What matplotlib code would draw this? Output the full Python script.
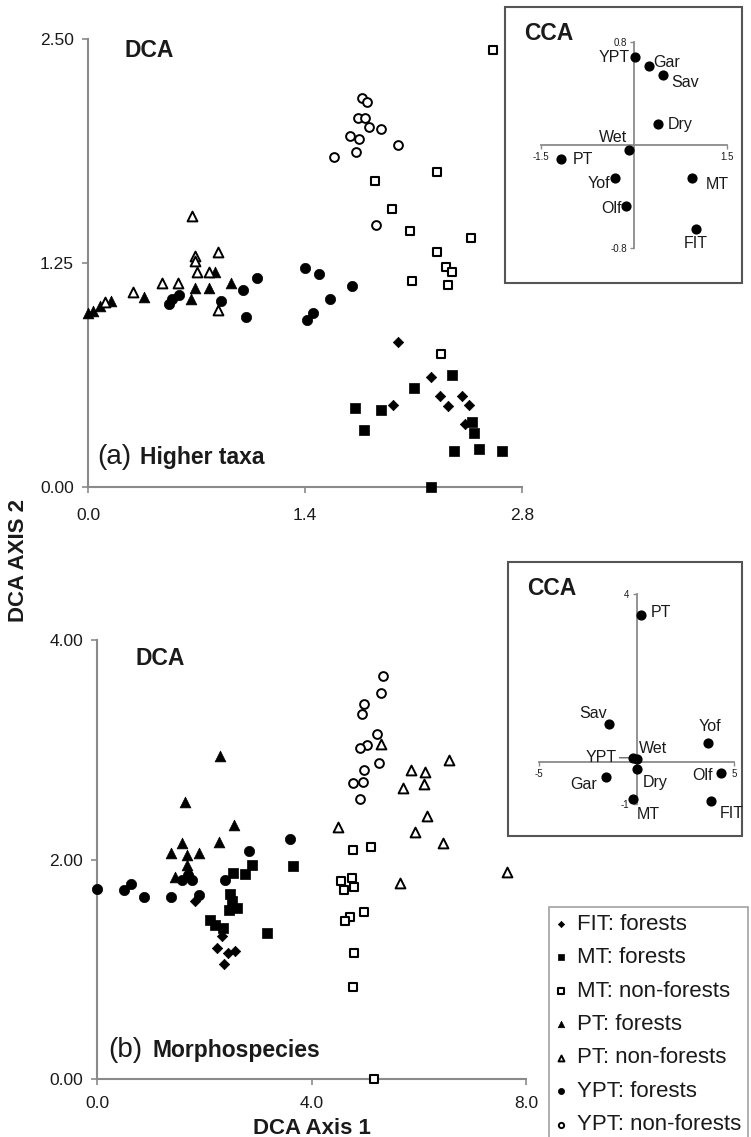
import matplotlib
matplotlib.use("Agg")
import matplotlib.pyplot as plt
from matplotlib.patches import Rectangle

plt.rcParams['font.family'] = ['Liberation Sans', 'DejaVu Sans']

# ---- (a) Higher taxa, DCA scores ----
fit_a_x = [2.00, 2.21, 1.97, 2.27, 2.32, 2.41, 2.46, 2.43]
fit_a_y = [0.81, 0.615, 0.46, 0.51, 0.45, 0.51, 0.46, 0.35]
mtf_a_x = [1.72, 1.78, 1.89, 2.10, 2.35, 2.48, 2.49, 2.36, 2.52, 2.67, 2.21]
mtf_a_y = [0.44, 0.32, 0.43, 0.55, 0.625, 0.365, 0.30, 0.20, 0.21, 0.20, 0.00]
mtn_a_x = [2.61, 1.85, 2.25, 1.96, 2.08, 2.47, 2.25, 2.31, 2.35, 2.09, 2.32, 2.28]
mtn_a_y = [2.44, 1.71, 1.76, 1.55, 1.43, 1.39, 1.31, 1.23, 1.20, 1.15, 1.13, 0.74]
ptf_a_x = [0.82, 0.92, 0.69, 0.78, 0.665, 0.36, 0.15, 0.08, 0.03, 0.00]
ptf_a_y = [1.20, 1.14, 1.11, 1.11, 1.05, 1.06, 1.04, 1.01, 0.98, 0.97]
ptn_a_x = [0.67, 0.69, 0.84, 0.69, 0.70, 0.78, 0.475, 0.58, 0.29, 0.11, 0.84]
ptn_a_y = [1.51, 1.29, 1.31, 1.26, 1.20, 1.20, 1.14, 1.14, 1.09, 1.03, 0.99]
yptf_a_x = [0.52, 0.54, 0.59, 0.86, 1.00, 1.09, 1.02, 1.40, 1.49, 1.70, 1.56, 1.41, 1.45]
yptf_a_y = [1.02, 1.05, 1.07, 1.04, 1.10, 1.165, 0.95, 1.22, 1.19, 1.12, 1.05, 0.93, 0.97]
yptn_a_x = [1.765, 1.80, 1.74, 1.79, 1.81, 1.89, 1.69, 1.75, 1.73, 1.59, 2.00, 1.86]
yptn_a_y = [2.17, 2.15, 2.06, 2.06, 2.01, 2.00, 1.96, 1.94, 1.87, 1.84, 1.91, 1.46]

# ---- (b) Morphospecies, DCA scores ----
fit_b_x = [1.82, 2.23, 2.45, 2.57, 2.36, 2.34]
fit_b_y = [1.62, 1.19, 1.15, 1.17, 1.05, 1.30]
mtf_b_x = [2.10, 2.20, 2.35, 2.48, 2.51, 2.47, 2.62, 2.54, 2.76, 2.89, 3.65, 3.17]
mtf_b_y = [1.45, 1.40, 1.38, 1.69, 1.62, 1.54, 1.555, 1.88, 1.87, 1.95, 1.94, 1.33]
mtn_b_x = [4.78, 5.11, 4.75, 4.55, 4.60, 4.79, 4.97, 4.72, 4.63, 4.80, 4.78, 5.17]
mtn_b_y = [2.09, 2.11, 1.83, 1.80, 1.72, 1.75, 1.52, 1.48, 1.44, 1.145, 0.835, 0.00]
ptf_b_x = [2.29, 1.64, 2.56, 2.28, 1.58, 1.375, 1.67, 1.91, 1.67, 1.455, 1.73]
ptf_b_y = [2.94, 2.52, 2.31, 2.16, 2.15, 2.06, 2.04, 2.06, 1.95, 1.84, 1.87]
ptn_b_x = [4.50, 5.29, 6.57, 5.85, 6.12, 6.10, 5.70, 6.15, 5.93, 6.45, 7.64, 5.65]
ptn_b_y = [2.30, 3.05, 2.91, 2.82, 2.80, 2.69, 2.65, 2.40, 2.25, 2.15, 1.89, 1.79]
yptf_b_x = [0.00, 0.50, 0.63, 0.88, 1.375, 1.91, 2.39, 2.84, 3.60, 1.58, 1.77, 1.70]
yptf_b_y = [1.73, 1.72, 1.78, 1.66, 1.66, 1.68, 1.81, 2.08, 2.19, 1.81, 1.81, 1.86]
yptn_b_x = [5.33, 5.29, 4.97, 4.94, 5.22, 5.03, 4.91, 5.25, 4.97, 4.96, 4.78, 4.91]
yptn_b_y = [3.67, 3.52, 3.42, 3.33, 3.14, 3.04, 3.02, 2.88, 2.82, 2.71, 2.70, 2.55]

# ---- CCA insets ----
cca_a_lab = ['YPT', 'Gar', 'Sav', 'Dry', 'Wet', 'PT', 'Yof', 'Olf', 'MT', 'FIT']
cca_a_x = [0.02, 0.24, 0.47, 0.39, -0.08, -1.18, -0.31, -0.13, 0.94, 1.00]
cca_a_y = [0.68, 0.61, 0.54, 0.16, -0.04, -0.11, -0.26, -0.47, -0.26, -0.65]
cca_b_lab = ['PT', 'Sav', 'Yof', 'YPT', 'Wet', 'Dry', 'Gar', 'Olf', 'MT', 'FIT']
cca_b_x = [0.23, -1.40, 3.67, -0.20, 0.03, 0.03, -1.56, 4.33, -0.18, 3.82]
cca_b_y = [3.50, 0.90, 0.45, 0.10, 0.07, -0.17, -0.35, -0.27, -0.88, -0.93]

legend_labels = ['FIT: forests', 'MT: forests', 'MT: non-forests', 'PT: forests',
                 'PT: non-forests', 'YPT: forests', 'YPT: non-forests']

W, H = 751, 1137
AX_GRAY = '#8a8a8a'
TXT = '#1a1a1a'


def px_rect(l, t, r, b):
    return [l / W, 1 - b / H, (r - l) / W, (b - t) / H]


# marker styles for the 7 groups
styles = [
    dict(marker='D', s=28, c='black', edgecolors='black', linewidths=0.5),
    dict(marker='s', s=50, c='black', edgecolors='black', linewidths=0.5),
    dict(marker='s', s=40, c='white', edgecolors='black', linewidths=1.5),
    dict(marker='^', s=60, c='black', edgecolors='black', linewidths=0.5),
    dict(marker='^', s=50, c='white', edgecolors='black', linewidths=1.4),
    dict(marker='o', s=55, c='black', edgecolors='black', linewidths=0.5),
    dict(marker='o', s=40, c='white', edgecolors='black', linewidths=1.4),
]


def style_main(ax, xt, yt, xfmt, yfmt, xpad, ypad):
    for side in ['top', 'right']:
        ax.spines[side].set_visible(False)
    for side in ['left', 'bottom']:
        ax.spines[side].set_color(AX_GRAY)
        ax.spines[side].set_linewidth(1.5)
    ax.set_xticks(xt)
    ax.set_yticks(yt)
    ax.set_xticklabels([xfmt % v for v in xt])
    ax.set_yticklabels([yfmt % v for v in yt])
    ax.tick_params(axis='both', length=4, width=1.2, color=AX_GRAY,
                   labelsize=12.5, labelcolor=TXT)
    ax.tick_params(axis='x', pad=xpad)
    ax.tick_params(axis='y', pad=ypad)
    ax.patch.set_alpha(0)


fig = plt.figure(figsize=(W / 100, H / 100), dpi=100)

# ---------------- panel (a) ----------------
ax1 = fig.add_axes(px_rect(88, 39, 522, 487))
groups_a = [(fit_a_x, fit_a_y), (mtf_a_x, mtf_a_y), (mtn_a_x, mtn_a_y), (ptf_a_x, ptf_a_y),
            (ptn_a_x, ptn_a_y), (yptf_a_x, yptf_a_y), (yptn_a_x, yptn_a_y)]
for (gx, gy), st in zip(groups_a, styles):
    ax1.scatter(gx, gy, clip_on=False, zorder=3, **st)
ax1.set_xlim(0, 2.8)
ax1.set_ylim(0, 2.5)
style_main(ax1, [0, 1.4, 2.8], [0, 1.25, 2.5], '%.1f', '%.2f', 11, 6)
ax1.text(0.085, 0.975, 'DCA', transform=ax1.transAxes, fontsize=16.5, fontweight='bold',
         ha='left', va='center', color=TXT)
ax1.text(0.021, 0.051, '(a)', transform=ax1.transAxes, fontsize=20, ha='left',
         va='baseline', color=TXT)
ax1.text(0.12, 0.051, 'Higher taxa', transform=ax1.transAxes, fontsize=16.5,
         fontweight='bold', ha='left', va='baseline', color=TXT)

# ---------------- panel (b) ----------------
ax2 = fig.add_axes(px_rect(97, 640, 526, 1079))
groups_b = [(fit_b_x, fit_b_y), (mtf_b_x, mtf_b_y), (mtn_b_x, mtn_b_y), (ptf_b_x, ptf_b_y),
            (ptn_b_x, ptn_b_y), (yptf_b_x, yptf_b_y), (yptn_b_x, yptn_b_y)]
handles = []
for (gx, gy), st, lab in zip(groups_b, styles, legend_labels):
    handles.append(ax2.scatter(gx, gy, clip_on=False, zorder=3, label=lab, **st))
ax2.set_xlim(0, 8)
ax2.set_ylim(0, 4)
style_main(ax2, [0, 4, 8], [0, 2, 4], '%.1f', '%.2f', 8, 6)
ax2.text(0.0886, 0.957, 'DCA', transform=ax2.transAxes, fontsize=16.5, fontweight='bold',
         ha='left', va='center', color=TXT)
ax2.text(0.026, 0.050, '(b)', transform=ax2.transAxes, fontsize=20, ha='left',
         va='baseline', color=TXT)
ax2.text(0.13, 0.050, 'Morphospecies', transform=ax2.transAxes, fontsize=16.5,
         fontweight='bold', ha='left', va='baseline', color=TXT)

fig.text(311.5 / W, 1 - 1128 / H, 'DCA Axis 1', fontsize=16, fontweight='bold',
         ha='center', va='center', color=TXT)
fig.text(19 / W, 1 - 561 / H, 'DCA AXIS 2', fontsize=16, fontweight='bold',
         rotation=90, ha='center', va='center', color=TXT)

leg = fig.legend(handles=handles, loc='upper left',
                 bbox_to_anchor=(549 / W, 1 - 907 / H), borderaxespad=0,
                 fontsize=16, markerscale=0.6, handlelength=0.5, handletextpad=0.45,
                 labelspacing=0.56, borderpad=0.3, frameon=True, fancybox=False)
leg.get_frame().set_edgecolor(AX_GRAY)
leg.get_frame().set_linewidth(1.2)
for t in leg.get_texts():
    t.set_color(TXT)


# ---------------- CCA insets ----------------
def cca_inset(rect, xlim, ylim, xb, yb, xs, ys, labels, offs):
    ax = fig.add_axes(rect)
    ax.set_xlim(*xlim)
    ax.set_ylim(*ylim)
    ax.add_patch(Rectangle((0, 0), 1, 1, transform=ax.transAxes, fill=False,
                           edgecolor='#555555', linewidth=1.5, clip_on=False))
    for side in ['top', 'right']:
        ax.spines[side].set_visible(False)
    ax.spines['left'].set_position(('data', 0))
    ax.spines['bottom'].set_position(('data', 0))
    ax.spines['left'].set_bounds(*yb)
    ax.spines['bottom'].set_bounds(*xb)
    for side in ['left', 'bottom']:
        ax.spines[side].set_color(AX_GRAY)
        ax.spines[side].set_linewidth(1.3)
    ax.set_xticks(list(xb))
    ax.set_yticks(list(yb))
    ax.set_xticklabels(['%g' % v for v in xb])
    ax.set_yticklabels(['%g' % v for v in yb])
    ax.tick_params(length=3, width=1, color=AX_GRAY, labelsize=7, labelcolor=TXT, pad=2)
    ax.scatter(xs, ys, s=40, c='black', zorder=4, clip_on=False)
    for lab, x, y in zip(labels, xs, ys):
        dx, dy, ha, leader = offs[lab]
        ax.annotate(lab, (x, y), xytext=(dx * 0.72, dy * 0.72), textcoords='offset points',
                    ha=ha, va='center', fontsize=11.5, color=TXT,
                    arrowprops=dict(arrowstyle='-', color='#444444', lw=0.8,
                                    shrinkA=0, shrinkB=2) if leader else None)
    ax.text(0.08, 0.905, 'CCA', transform=ax.transAxes, fontsize=16.5,
            fontweight='bold', ha='left', va='center', color=TXT)
    ax.patch.set_facecolor('white')
    return ax


offs_a = {'YPT': (-6, 0, 'right', False), 'Gar': (4, 4, 'left', False),
          'Sav': (8, -7, 'left', False), 'Dry': (10, 0, 'left', False),
          'Wet': (-2, 13, 'right', False), 'PT': (12, 0, 'left', False),
          'Yof': (-5, -5, 'right', False), 'Olf': (-4, -3, 'right', False),
          'MT': (13, -6, 'left', False), 'FIT': (0, -15, 'center', False)}
offs_b = {'PT': (10, 3, 'left', False), 'Sav': (-16, 11, 'center', False),
          'Yof': (2, 17, 'center', False), 'YPT': (-16, 0, 'right', True),
          'Wet': (2, 11, 'left', True), 'Dry': (6, -13, 'left', False),
          'Gar': (-9, -8, 'right', False), 'Olf': (-8, -2, 'right', False),
          'MT': (15, -16, 'center', False), 'FIT': (9, -12, 'left', False)}

cca_inset(px_rect(505, 7, 742, 283), (-2.081, 1.742), (-1.072, 1.072),
          (-1.5, 1.5), (-0.8, 0.8), cca_a_x, cca_a_y, cca_a_lab, offs_a)
cca_inset(px_rect(508, 562, 742, 836), (-6.59, 5.41), (-1.762, 4.762),
          (-5, 5), (-1, 4), cca_b_x, cca_b_y, cca_b_lab, offs_b)

fig.savefig('out.png', dpi=100)
